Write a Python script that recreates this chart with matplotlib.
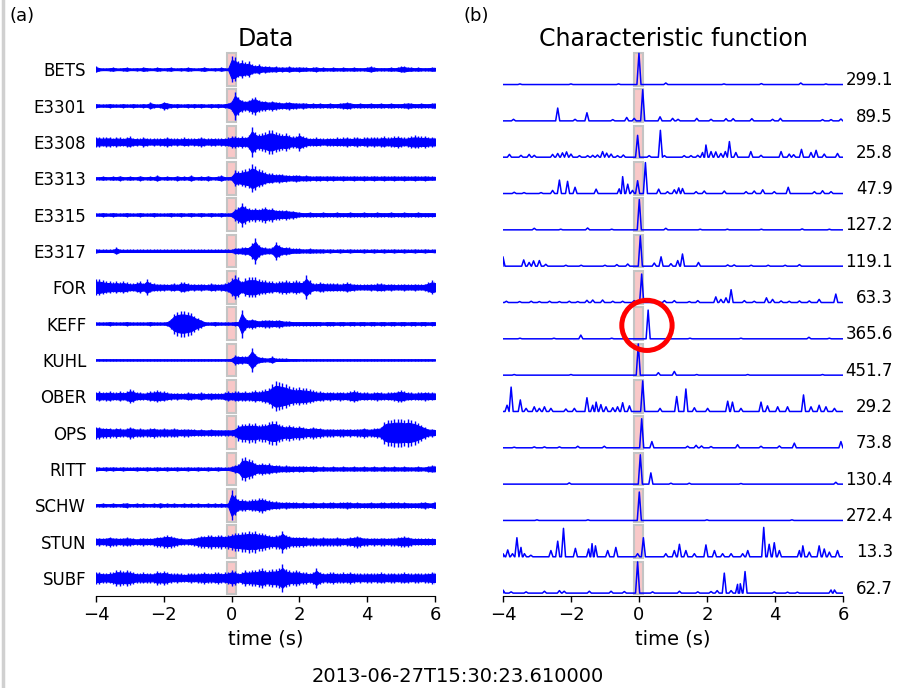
import numpy as np
import matplotlib
matplotlib.use("Agg")
import matplotlib.pyplot as plt
from matplotlib.patches import Rectangle, Ellipse

# station names and max of characteristic function
stations = ["BETS", "E3301", "E3308", "E3313", "E3315", "E3317", "FOR", "KEFF",
            "KUHL", "OBER", "OPS", "RITT", "SCHW", "STUN", "SUBF"]
cf_max = [299.1, 89.5, 25.8, 47.9, 127.2, 119.1, 63.3, 365.6, 451.7, 29.2,
          73.8, 130.4, 272.4, 13.3, 62.7]

# waveform envelopes (relative amplitude), one value every 0.1 s from -4 to 6 s
bets_env = [3, 1.5, 1.2, 1.2, 1.5, 2, 1.2, 1.2, 1.5, 2,
            1.2, 1.2, 1.5, 1.2, 2.2, 1.5, 1.2, 1.2, 2, 1.5,
            1.2, 1.5, 2, 1.2, 1.2, 1.5, 1.2, 2, 1.5, 1.2,
            1.2, 1.5, 2.2, 1.2, 1.2, 1.5, 1.2, 2, 1.2, 1.2,
            13, 12, 8, 9, 7, 8, 5, 4, 5, 3,
            3.5, 3, 2.5, 3, 2, 2.5, 2, 3, 2, 2,
            2.5, 2, 2, 1.5, 2, 2.5, 1.5, 2, 1.5, 1.5,
            2, 1.5, 1.5, 2, 1.5, 1.5, 2, 1.5, 1.5, 1.5,
            2, 3, 2, 1.5, 1.5, 1.5, 1.5, 2, 1.5, 2,
            3, 3, 2, 2, 1.5, 2, 1.5, 1.5, 1.5, 2, 2]
e3301_env = [2, 1.5, 1.5, 1.5, 2, 1.5, 1.5, 1.5, 2, 1.5,
             1.5, 2, 1.5, 1.5, 2, 1.5, 3.5, 2, 1.5, 2,
             4, 3, 2, 1.5, 2, 1.5, 1.5, 2, 1.5, 2,
             1.5, 2, 1.5, 1.5, 2, 1.5, 2, 1.5, 2, 2.5,
             5, 14, 9, 6, 5, 6, 8, 9, 6, 5,
             5, 4, 5, 4, 3.5, 3, 3.5, 4, 3, 3,
             2.5, 3, 2.5, 2, 2.5, 2, 2.5, 2, 2, 2.5,
             2, 2, 2.5, 3, 3.5, 3, 2, 2, 2.5, 2,
             2, 2.5, 2, 2, 2.5, 2, 2, 2.5, 2, 2,
             2, 2.5, 3, 2.5, 2, 2, 2.5, 2, 2, 2.5, 3]
e3308_env = [5, 5, 4.5, 5, 5, 4, 5, 4.5, 4, 5,
             5.5, 4, 4, 3.5, 5, 4, 3.5, 4, 3.5, 4,
             4, 5, 4, 3.5, 4, 3.5, 4.5, 4, 3.5, 4,
             4, 5, 4, 3.5, 4, 4, 3.5, 4, 4, 4.5,
             6, 6, 5, 6, 5, 7, 15, 10, 8, 9,
             10, 12, 12, 10, 9, 8, 9, 7, 6, 6,
             9, 6, 5, 4, 4, 4.5, 4, 3.5, 4, 4,
             4, 4.5, 4, 4.5, 5, 4, 4.5, 5, 4, 4.5,
             5, 4.5, 5, 4.5, 5, 5.5, 4.5, 5, 5.5, 6,
             5, 4.5, 5, 6, 6.5, 6, 5.5, 6, 5, 5, 5]
e3313_env = [1.5, 1.5, 2, 1.5, 1.5, 2, 1.5, 2.5, 1.5, 1.5,
             2, 1.5, 1.5, 2.5, 1.5, 1.5, 2, 1.5, 3, 1.5,
             1.5, 2, 1.5, 1.5, 2.5, 1.5, 2, 1.5, 3, 1.5,
             1.5, 2, 1.5, 2.5, 1.5, 1.5, 2, 3, 1.5, 1.5,
             2, 8, 7, 8, 9, 10, 14, 12, 9, 8,
             6, 5, 5, 4, 4.5, 4, 3.5, 3, 3, 3.5,
             3, 2.5, 3, 2.5, 2, 2.5, 2.5, 2, 2.5, 2,
             2.5, 2, 2, 2.5, 2, 2, 2.5, 2, 2, 2.5,
             2, 2, 2.5, 2, 2, 2.5, 2, 2, 2.5, 2,
             2, 2.5, 2, 2, 2.5, 2, 2, 2.5, 2, 2, 2]
e3315_env = [1.5, 1.5, 2, 1.5, 1.5, 2, 1.5, 1.5, 1.5, 2,
             1.5, 1.5, 1.5, 2, 1.5, 1.5, 1.5, 2, 1.5, 1.5,
             1.5, 1.5, 2, 1.5, 1.5, 2, 1.5, 1.5, 2, 1.5,
             1.5, 2, 1.5, 1.5, 2, 1.5, 1.5, 2, 1.5, 1.5,
             2, 6, 8, 12, 9, 7, 6, 7, 6, 7,
             8, 6, 7, 5, 5, 4.5, 5, 4, 4, 3,
             2.5, 2, 2, 2.5, 2, 2, 2, 2.5, 2, 2,
             2, 2.5, 2, 2, 2, 2.5, 2, 2, 2, 2.5,
             2, 2, 2, 2.5, 2, 2, 2, 2.5, 2, 2,
             2, 2.5, 2, 2, 2, 2.5, 2, 2, 2, 2, 2]
e3317_env = [2, 1.5, 1.5, 1.5, 1.5, 1.5, 3.5, 1.5, 1.5, 1.5,
             1.5, 1.5, 1.5, 1.5, 1.5, 1.5, 1.5, 1.5, 1.5, 1.5,
             1.5, 1.5, 1.5, 1.5, 1.5, 1.5, 1.5, 1.5, 1.5, 1.5,
             1.5, 1.5, 1.5, 1.5, 1.5, 1.5, 1.5, 1.5, 1.5, 1.5,
             1.5, 3, 3, 3.5, 4, 4, 8, 13, 6, 4,
             3.5, 3, 3.5, 9, 6, 4, 4, 3.5, 2.5, 2.5,
             2.5, 2, 2, 2.5, 2, 2, 2, 2, 1.5, 2,
             1.5, 1.5, 2, 1.5, 1.5, 2, 1.5, 1.5, 1.5, 2,
             1.5, 1.5, 2, 1.5, 1.5, 2, 1.5, 1.5, 2, 1.5,
             1.5, 2, 1.5, 1.5, 2, 1.5, 1.5, 2, 1.5, 1.5, 2]
for_env = [8, 8, 7, 6, 6, 5, 6, 5, 6, 5,
           4, 4, 5, 6, 4, 8, 5, 4, 3.5, 3.5,
           3.5, 3, 3.5, 4, 3, 5, 5, 4, 3, 3.5,
           3, 3.5, 3, 3, 4, 3.5, 3, 3.5, 4, 5,
           9, 12, 10, 6, 9, 10, 10, 10, 8, 7,
           7, 6, 6, 5, 6, 6.5, 7, 6, 6, 7,
           6, 6, 12, 7, 4, 4, 5, 4.5, 4, 4,
           4, 4, 3.5, 4, 5, 4, 3.5, 3, 3, 3,
           3, 3.5, 3, 4, 4, 3.5, 3, 3.5, 3, 3,
           3, 3.5, 3, 3, 3.5, 3, 3, 3.5, 5, 7, 6]
keff_env = [1.5, 1.5, 1.5, 1.5, 2, 1.5, 1.5, 1.5, 1.5, 2,
            1.5, 1.5, 1.5, 1.5, 1.5, 1.5, 2, 1.5, 1.5, 1.5,
            1.5, 2, 5, 10, 12, 13, 13, 12, 11, 8,
            6, 4, 2, 1.5, 1.5, 2, 1.5, 1.5, 1.5, 1.5,
            1.5, 2, 2, 14, 6, 4, 5, 4, 3, 3.5,
            4, 4, 3.5, 3.5, 4, 3, 2.5, 2.5, 2, 2,
            2, 2, 2, 2, 2, 2, 2, 1.5, 2, 2,
            2, 1.5, 2, 2, 1.5, 2, 2, 1.5, 2, 2,
            1.5, 2, 2, 1.5, 2, 2, 1.5, 2, 2, 1.5,
            2, 2, 1.5, 2, 2, 1.5, 2, 2, 1.5, 2, 2]
kuhl_env = [1, 1, 1, 1, 1, 1, 1, 1, 1, 1,
            1, 1, 1, 1, 1, 1, 1, 1, 1, 1,
            1, 1, 1, 1, 1, 1, 1, 1, 1, 1,
            1, 1, 1, 1, 1, 1, 1, 1, 1, 1,
            1.5, 5, 4, 4, 3.5, 5, 12, 6, 3, 2.5,
            2, 2, 3.5, 1.5, 1.5, 1.5, 1.5, 1.2, 1.2, 1.2,
            1, 1, 1, 1, 1, 1, 1, 1, 1, 1,
            1, 1, 1, 1, 1, 1, 1, 1, 1, 1,
            1, 1, 1, 1, 1, 1, 1, 1, 1, 1,
            1, 1, 1, 1, 1, 1, 1, 1, 1, 1, 1]
ober_env = [4, 5, 4, 4.5, 5, 4, 4, 5, 4, 5,
            7, 6, 4, 4, 3.5, 4, 5, 5, 6, 5,
            5, 4, 3.5, 3, 3.5, 3, 3, 4, 3.5, 3,
            3, 4, 3, 3, 3.5, 3, 3, 3, 4, 5,
            4, 5, 5, 4.5, 5, 4.5, 5, 6, 5, 6,
            7, 8, 12, 15, 14, 13, 12, 10, 9, 8,
            9, 8, 8, 7, 6, 5, 5, 4.5, 4, 4.5,
            4, 4, 4.5, 4, 4, 5, 6, 5, 4, 4,
            4, 3.5, 4, 4.5, 4, 3.5, 4, 4, 4.5, 5.5,
            6, 5, 4, 4, 3.5, 4, 4, 4.5, 4, 4, 4]
ops_env = [6, 6, 5, 5, 5, 4, 5, 4.5, 4, 4.5,
           6, 5, 4, 4.5, 4, 4, 4.5, 5, 4, 4,
           4.5, 4, 4, 4.5, 4, 3.5, 4, 4, 3.5, 3.5,
           3, 3.5, 3, 3, 3.5, 3, 3, 3, 3, 3,
           3, 4, 8, 9, 9, 10, 9, 10, 8, 9,
           9, 11, 12, 12, 9, 8, 7, 8, 7, 6,
           7, 6, 5, 5, 6, 5, 5, 4, 4, 4,
           4, 3.5, 4, 4, 3.5, 4, 3.5, 4, 4, 5,
           4, 4, 4.5, 5, 6, 11, 13, 13, 14, 14,
           14, 13, 14, 13, 12, 10, 8, 6, 4, 4, 3.5]
ritt_env = [2, 1.5, 1.5, 2, 1.5, 2, 1.5, 1.5, 2, 1.5,
            1.5, 1.5, 2, 1.5, 1.5, 2, 1.5, 1.5, 2, 1.5,
            1.5, 2, 1.5, 1.5, 2, 1.5, 1.5, 2, 1.5, 1.5,
            2, 1.5, 1.5, 2, 1.5, 1.5, 2, 1.5, 1.5, 1.5,
            2.5, 4, 4.5, 11, 12, 10, 9, 6, 5, 6,
            5, 5.5, 4, 4, 3.5, 3, 3.5, 3, 3, 2.5,
            3, 3, 2.5, 2.5, 3, 2.5, 2, 2.5, 2, 2,
            2.5, 2, 2, 2.5, 2, 2, 2.5, 2, 2, 2.5,
            2, 2, 2.5, 2, 2, 2.5, 2, 2, 2.5, 2,
            2, 2.5, 2, 2, 2, 2.5, 2, 2, 3, 3.5, 3.5]
schw_env = [1.5, 1.5, 2, 1.5, 1.5, 2, 1.5, 1.5, 2, 2.5,
            1.5, 1.5, 2, 1.5, 2, 1.5, 1.5, 2, 1.5, 2.5,
            1.5, 2, 1.5, 2, 1.5, 1.5, 2, 1.5, 2, 1.5,
            2, 1.5, 1.5, 2, 1.5, 2, 1.5, 2, 1.5, 2,
            15, 10, 6, 6, 5.5, 5, 6, 6, 7, 7.5,
            6, 5, 4, 4, 3.5, 3, 3.5, 3, 3, 3,
            2.5, 3, 2.5, 2.5, 3, 2.5, 2.5, 3, 2.5, 3,
            3, 2.5, 3, 3, 3.5, 3, 2.5, 3, 2.5, 2.5,
            2.5, 3, 2.5, 2.5, 3, 3, 2.5, 3, 3, 3,
            2.5, 3, 2.5, 2.5, 2.5, 2.5, 3, 3.5, 2.5, 2.5, 4]
stun_env = [3.5, 4, 3.5, 4, 5, 4, 4, 3.5, 4, 4.5,
            4, 3.5, 3, 3.5, 4, 3.5, 3.5, 4, 5, 5,
            6, 6.5, 6, 5, 4, 3.5, 3, 3, 3.5, 4,
            5, 6, 6, 6.5, 7, 6, 6.5, 7, 6, 7,
            8, 9, 9, 10, 10, 11, 10, 11, 9, 9,
            8, 7, 6, 7, 7, 11, 7, 6, 5, 5,
            5, 5, 4.5, 4, 4.5, 4, 4, 4.5, 4, 4,
            4, 4.5, 4, 3.5, 4, 4.5, 5, 6, 5, 4,
            4, 3.5, 4, 3.5, 4, 4, 3.5, 4, 4, 4.5,
            5, 5.5, 5, 4, 3.5, 3.5, 3.5, 3.5, 3.5, 3.5, 3.5]
subf_env = [6, 6, 5, 5, 5.5, 6, 8, 8, 7, 8,
            7, 6, 5, 5, 5.5, 5, 5, 5, 7, 6,
            7, 6, 5, 4.5, 5, 4.5, 4, 4.5, 5, 4.5,
            5, 5, 6, 5, 5, 5.5, 6, 5, 5.5, 6,
            8, 7, 5, 6, 8, 7, 8, 8, 9, 10,
            8, 8, 9, 9, 10, 14, 9, 8, 7, 8,
            7, 6, 6, 5, 6, 10, 6, 5, 5, 5.5,
            6, 5, 5, 5.5, 5, 6, 5, 4.5, 5, 4.5,
            5, 5, 4.5, 5, 5.5, 5, 4.5, 5, 5, 4.5,
            5, 5.5, 5, 4.5, 5, 5, 4.5, 5, 5, 6, 6]

# characteristic function peaks: (time in s, height relative to max)
bets_cf = [(-3.5, 0.02), (-2.0, 0.02), (-0.6, 0.02), (0.0, 1.0), (0.79, 0.05),
           (2.5, 0.02), (3.6, 0.03), (4.76, 0.05), (5.5, 0.02)]
e3301_cf = [(-3.69, 0.05), (-2.39, 0.41), (-1.88, 0.05), (-1.53, 0.26), (-0.77, 0.04),
            (-0.36, 0.11), (-0.14, 0.08), (0.11, 1.0), (0.62, 0.13), (0.99, 0.08),
            (1.15, 0.05), (1.70, 0.08), (2.12, 0.05), (2.56, 0.07), (2.77, 0.07),
            (3.32, 0.07), (3.93, 0.05), (4.16, 0.08), (5.40, 0.04), (5.65, 0.04), (5.94, 0.06)]
e3308_cf = [(-3.81, 0.09), (-3.47, 0.06), (-3.23, 0.09), (-3.08, 0.06), (-2.54, 0.09),
            (-2.39, 0.12), (-2.25, 0.14), (-2.13, 0.17), (-2.0, 0.1), (-1.75, 0.05),
            (-1.51, 0.05), (-1.36, 0.06), (-1.22, 0.07), (-1.07, 0.18), (-0.95, 0.13),
            (-0.82, 0.1), (-0.63, 0.05), (-0.46, 0.07), (-0.04, 0.7), (0.30, 0.05),
            (0.63, 0.86), (0.75, 0.05), (1.33, 0.05), (1.53, 0.05), (1.73, 0.06),
            (1.87, 0.15), (1.97, 0.39), (2.12, 0.18), (2.26, 0.17), (2.41, 0.12),
            (2.54, 0.18), (2.66, 0.5), (2.85, 0.15), (3.29, 0.18), (3.59, 0.06),
            (4.18, 0.18), (4.42, 0.1), (4.55, 0.08), (4.78, 0.25), (5.06, 0.15),
            (5.21, 0.22), (5.45, 0.1), (5.84, 0.12)]
e3313_cf = [(-3.67, 0.04), (-3.38, 0.03), (-2.88, 0.03), (-2.54, 0.1), (-2.34, 0.43),
            (-2.10, 0.39), (-1.88, 0.2), (-1.26, 0.14), (-0.58, 0.15), (-0.48, 0.54),
            (-0.33, 0.3), (-0.19, 0.1), (-0.04, 0.41), (0.19, 0.99), (0.58, 0.14),
            (0.84, 0.06), (1.04, 0.12), (1.17, 0.18), (1.28, 0.16), (1.68, 0.06),
            (1.92, 0.08), (2.51, 0.08), (3.15, 0.06), (3.39, 0.08), (3.64, 0.12),
            (3.98, 0.06), (4.39, 0.2), (5.16, 0.06), (5.40, 0.09), (5.65, 0.06)]
e3315_cf = [(-3.08, 0.05), (-2.3, 0.02), (-1.51, 0.06), (-0.8, 0.02), (0.01, 0.97),
            (0.79, 0.05), (1.8, 0.02), (2.6, 0.02), (3.6, 0.02), (4.8, 0.03), (5.6, 0.02)]
e3317_cf = [(-4.0, 0.3), (-3.39, 0.2), (-3.23, 0.12), (-3.10, 0.17), (-2.93, 0.18),
            (-2.74, 0.06), (-2.15, 0.03), (-1.7, 0.03), (-1.0, 0.03), (-0.65, 0.05),
            (-0.33, 0.07), (0.04, 0.97), (0.45, 0.1), (0.65, 0.3), (0.94, 0.08),
            (1.14, 0.18), (1.28, 0.39), (1.75, 0.12), (2.61, 0.04), (2.8, 0.04),
            (3.3, 0.03), (3.8, 0.03), (4.3, 0.03), (4.72, 0.05)]
for_cf = [(-3.9, 0.04), (-3.51, 0.03), (-3.17, 0.04), (-2.93, 0.03), (-2.63, 0.04),
          (-2.34, 0.03), (-2.05, 0.04), (-1.80, 0.03), (-1.53, 0.07), (-1.36, 0.08),
          (-1.07, 0.08), (-0.77, 0.04), (-0.48, 0.04), (-0.14, 0.06), (0.08, 0.91),
          (0.75, 0.06), (1.04, 0.06), (1.48, 0.03), (1.73, 0.06), (2.26, 0.18),
          (2.41, 0.1), (2.56, 0.15), (2.71, 0.41), (3.1, 0.06), (3.39, 0.04),
          (3.75, 0.15), (3.93, 0.1), (4.18, 0.05), (4.42, 0.04), (4.72, 0.05),
          (5.01, 0.05), (5.30, 0.1), (5.79, 0.27)]
keff_cf = [(-3.5, 0.02), (-2.5, 0.02), (-1.71, 0.12), (-0.8, 0.02), (0.27, 0.92),
           (1.5, 0.02), (3.0, 0.02), (5.0, 0.05), (5.6, 0.02)]
kuhl_cf = [(-3.67, 0.02), (-2.0, 0.02), (-0.02, 1.0), (0.57, 0.08), (1.04, 0.12),
           (1.7, 0.02), (3.2, 0.02), (5.4, 0.02)]
ober_cf = [(-3.88, 0.2), (-3.76, 0.78), (-3.49, 0.37), (-3.32, 0.1), (-3.08, 0.15),
           (-2.93, 0.1), (-2.78, 0.15), (-2.59, 0.1), (-2.15, 0.08), (-1.90, 0.1),
           (-1.53, 0.44), (-1.36, 0.2), (-1.26, 0.3), (-1.12, 0.22), (-0.97, 0.15),
           (-0.77, 0.12), (-0.63, 0.15), (-0.48, 0.28), (-0.28, 0.18), (0.11, 0.98),
           (0.62, 0.1), (1.11, 0.48), (1.38, 0.72), (1.63, 0.12), (2.02, 0.1),
           (2.61, 0.33), (2.75, 0.3), (3.0, 0.1), (3.59, 0.3), (3.78, 0.18),
           (4.08, 0.15), (4.37, 0.15), (4.84, 0.53), (5.06, 0.15), (5.30, 0.2),
           (5.50, 0.15), (5.75, 0.1)]
ops_cf = [(-3.67, 0.02), (-3.08, 0.03), (-2.78, 0.03), (-2.34, 0.03), (-1.80, 0.05),
          (-1.02, 0.05), (0.08, 0.93), (0.38, 0.2), (1.43, 0.05), (1.68, 0.08),
          (1.84, 0.06), (2.12, 0.04), (2.90, 0.1), (3.59, 0.05), (4.13, 0.06),
          (4.57, 0.15), (5.94, 0.2)]
ritt_cf = [(-2.05, 0.04), (0.04, 0.94), (0.35, 0.36), (0.94, 0.03), (1.48, 0.03),
           (3.0, 0.02), (5.79, 0.06)]
schw_cf = [(-3.0, 0.02), (-1.5, 0.02), (0.01, 0.91), (2.0, 0.02), (4.5, 0.02)]
stun_cf = [(-4.0, 0.1), (-3.86, 0.22), (-3.72, 0.1), (-3.59, 0.61), (-3.47, 0.3),
           (-3.37, 0.1), (-3.18, 0.05), (-2.59, 0.2), (-2.39, 0.5), (-2.22, 0.91),
           (-1.87, 0.27), (-1.48, 0.25), (-1.38, 0.42), (-1.28, 0.35), (-0.92, 0.2),
           (-0.68, 0.3), (-0.04, 0.1), (0.13, 0.61), (0.79, 0.1), (1.04, 0.2),
           (1.19, 0.4), (1.38, 0.2), (1.63, 0.1), (1.97, 0.38), (2.22, 0.2),
           (2.46, 0.1), (2.71, 0.1), (3.05, 0.1), (3.20, 0.2), (3.67, 0.94),
           (3.83, 0.4), (3.98, 0.45), (4.13, 0.2), (4.72, 0.2), (4.82, 0.35),
           (5.01, 0.15), (5.30, 0.35), (5.45, 0.25), (5.60, 0.15), (5.84, 0.2)]
subf_cf = [(-4.0, 0.1), (-3.76, 0.04), (-3.32, 0.04), (-2.78, 0.06), (-2.34, 0.08),
           (-2.20, 0.06), (-1.46, 0.06), (-0.82, 0.06), (-0.43, 0.05), (-0.04, 1.0),
           (0.40, 0.04), (1.19, 0.06), (1.73, 0.04), (2.12, 0.05), (2.30, 0.08),
           (2.51, 0.64), (2.71, 0.08), (2.90, 0.28), (2.98, 0.3), (3.12, 0.69),
           (3.98, 0.04), (4.37, 0.03), (4.66, 0.03), (5.65, 0.1), (5.75, 0.1)]

envs = [bets_env, e3301_env, e3308_env, e3313_env, e3315_env, e3317_env, for_env,
        keff_env, kuhl_env, ober_env, ops_env, ritt_env, schw_env, stun_env, subf_env]
cfs = [bets_cf, e3301_cf, e3308_cf, e3313_cf, e3315_cf, e3317_cf, for_cf, keff_cf,
       kuhl_cf, ober_cf, ops_cf, ritt_cf, schw_cf, stun_cf, subf_cf]

t = np.linspace(-4, 6, 101)
gain = 0.0275       # envelope -> trace spacing units
cf_base = 0.42      # baseline offset of each CF trace
cf_gain = 0.86
half_w = 0.06       # half width of CF peaks (s)
win = (-0.15, 0.13) # picking window

fig = plt.figure(figsize=(8.98, 6.88), dpi=100)
ax1 = fig.add_axes([0.1069, 0.1337, 0.3775, 0.792])
ax2 = fig.add_axes([0.5601, 0.1337, 0.3786, 0.792])

for ax in (ax1, ax2):
    for i in range(len(stations)):
        ax.add_patch(Rectangle((win[0], i - 0.45), win[1] - win[0], 0.9,
                               facecolor="#f8c8c8", edgecolor="#c4c4c4", lw=1.5, zorder=1))
    ax.set_xlim(-4, 6)
    ax.set_ylim(len(stations) - 0.5, -0.5)
    ax.set_xticks([-4, -2, 0, 2, 4, 6])
    ax.set_xticklabels(["\u22124", "\u22122", "0", "2", "4", "6"])
    ax.tick_params(axis="x", labelsize=13, length=4, width=1)
    ax.set_xlabel("time (s)", fontsize=14)
    for s in ["top", "left", "right"]:
        ax.spines[s].set_visible(False)

# data traces: dense core plus spiky outline
for i, env in enumerate(envs):
    a = np.array(env) * gain
    ax1.fill_between(t, i - 0.7 * a, i + 0.7 * a, color="blue", lw=0.8, zorder=2)
    ax1.vlines(t, i - a, i + a, color="blue", lw=1.0, zorder=2)

ax1.set_yticks(range(len(stations)))
ax1.set_yticklabels(stations, fontsize=12)
ax1.tick_params(axis="y", length=0, pad=7)
ax1.set_title("Data", fontsize=17, pad=4)

# characteristic functions
for i, peaks in enumerate(cfs):
    xs, ys = [-4.0], [0.0]
    for pt, ph in peaks:
        xs += [pt - half_w, pt, pt + half_w]
        ys += [0.0, ph, 0.0]
    xs.append(6.0)
    ys.append(0.0)
    order = np.argsort(xs, kind="stable")
    xs = np.array(xs)[order]
    ys = np.array(ys)[order]
    ax2.plot(xs, i + cf_base - cf_gain * ys, color="blue", lw=1.1, zorder=2, clip_on=True)
    ax2.text(1.147, i + 0.3, f"{cf_max[i]}", transform=ax2.get_yaxis_transform(),
             ha="right", va="center", fontsize=12)

ax2.set_yticks([])
ax2.set_title("Characteristic function", fontsize=17, pad=4)

# highlight
ax2.add_patch(Ellipse((0.235, 7.05), 1.48, 1.38, fill=False, edgecolor="red",
                      lw=3.6, zorder=5, clip_on=False))

fig.text(0.011, 0.977, "(a)", fontsize=13, ha="left", va="center")
fig.text(0.5156, 0.977, "(b)", fontsize=13, ha="left", va="center")
fig.text(0.51, 0.016, "2013-06-27T15:30:23.610000", fontsize=14, ha="center", va="center")

# light frame on the left edge
fig.add_artist(plt.Line2D([0.003, 0.003], [0, 1], color="#d0d0d0", lw=2.5))

fig.savefig("out.png", dpi=100)
